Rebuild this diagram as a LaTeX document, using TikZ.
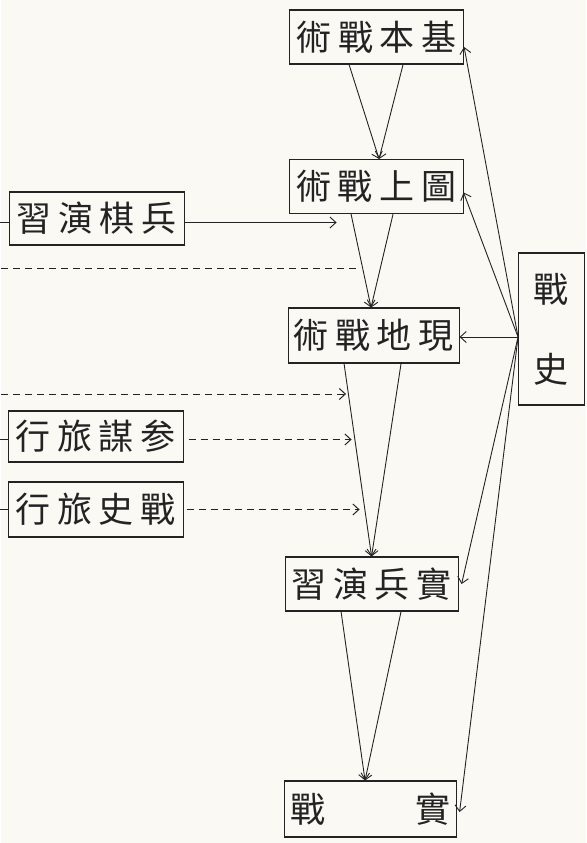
\documentclass[tikz,border=0pt]{standalone}
\usepackage{fontspec}
\newfontfamily\cjk{Noto Sans CJK TC}
\usetikzlibrary{arrows.meta}
\definecolor{paper}{RGB}{251,249,243}
\definecolor{ink}{RGB}{35,35,35}
\newcommand{\spread}[1]{\makebox[160pt][s]{#1}}
\begin{document}
\begin{tikzpicture}[x=1pt,y=-1pt,
    box/.style={draw=ink,line width=1.1pt,minimum width=174pt,minimum height=54pt,inner sep=0pt,font=\cjk\fontsize{35}{35}\selectfont,text=ink},
    flow/.style={draw=ink,line width=0.9pt,-{Straight Barb[length=6pt,width=11pt]}},
    dashline/.style={draw=ink,line width=1pt,dash pattern=on 7pt off 5pt}]
                \fill [paper] (0,0) rectangle (585,843);
                \node [box] (jiben) at (375.5,37) {\spread{術\hfill 戰\hfill 本\hfill 基}};
                \node [box] (tuwei) at (375,186.5) {\spread{術\hfill 戰\hfill 上\hfill 圖}};
                \node [box,minimum width=171pt,minimum height=55pt] (xiandi) at (372.5,335.5) {\spread{術\hfill 戰\hfill 地\hfill 現}};
                \node [box,minimum width=173pt] (shibing) at (370.5,584) {\spread{習\hfill 演\hfill 兵\hfill 實}};
                \node [box,minimum width=172pt,minimum height=56pt] (shizhan) at (369,809) {\spread{戰\hfill 實}};
                \node [box,minimum width=66pt,minimum height=152pt,align=center] (zhanshi) at (550,329) {戰\\[45pt]史};
                \node [box,minimum width=175pt,minimum height=53pt] (qibing) at (95.5,218.5) {\spread{習\hfill 演\hfill 棋\hfill 兵}};
                \node [box,minimum width=175pt,minimum height=51pt] (canmou) at (94.5,436.5) {\spread{行\hfill 旅\hfill 謀\hfill 参}};
                \node [box,minimum width=175pt,minimum height=55pt] (lvshi) at (94.5,509.5) {\spread{行\hfill 旅\hfill 史\hfill 戰}};
                \coordinate (src) at (517,337);
                \draw [flow] ([xshift=-27.5pt]jiben.south) -- ([xshift=3pt]tuwei.north);
                \draw [flow] ([xshift=26.5pt]jiben.south) -- ([xshift=3pt]tuwei.north);
                \draw [flow] ([xshift=-25pt]tuwei.south) -- ([xshift=-2.5pt]xiandi.north);
                \draw [flow] ([xshift=17pt]tuwei.south) -- ([xshift=-2.5pt]xiandi.north);
                \draw [flow] ([xshift=-29.5pt]xiandi.south) -- (shibing.north);
                \draw [flow] ([xshift=27.5pt]xiandi.south) -- (shibing.north);
                \draw [flow] ([xshift=-30.5pt]shibing.south) -- ([xshift=-5pt]shizhan.north);
                \draw [flow] ([xshift=29.5pt]shibing.south) -- ([xshift=-5pt]shizhan.north);
                \draw [flow] (src) -- ([yshift=-10pt]jiben.east);
                \draw [flow] (src) -- ([yshift=-6pt]tuwei.east);
                \draw [flow] (src) -- (src -| xiandi.east);
                \draw [flow] (src) -- ([xshift=3pt]shibing.east);
                \draw [flow] (src) -- ([xshift=3pt,yshift=-3pt]shizhan.east);
                \draw [flow] ([yshift=-4pt]qibing.east) -- ++(152,0);
                \draw [draw=ink,line width=1pt] ([yshift=-4pt]qibing.west) -- ++(-8,0);
                \draw [dashline] (0,268) -- (355,268);
                \draw [dashline,-{Straight Barb[length=6pt,width=11pt]}] (0,394) -- (345,394);
                \draw [dashline,-{Straight Barb[length=6pt,width=11pt]}] ([xshift=5pt,yshift=-3pt]canmou.east) -- ++(163,0);
                \draw [draw=ink,line width=1pt] ([yshift=-3pt]canmou.west) -- ++(-7,0);
                \draw [dashline,-{Straight Barb[length=6pt,width=11pt]}] ([xshift=3pt]lvshi.east) -- ++(173,0);
                \draw [draw=ink,line width=1pt] (lvshi.west) -- ++(-7,0);
\end{tikzpicture}
\end{document}
